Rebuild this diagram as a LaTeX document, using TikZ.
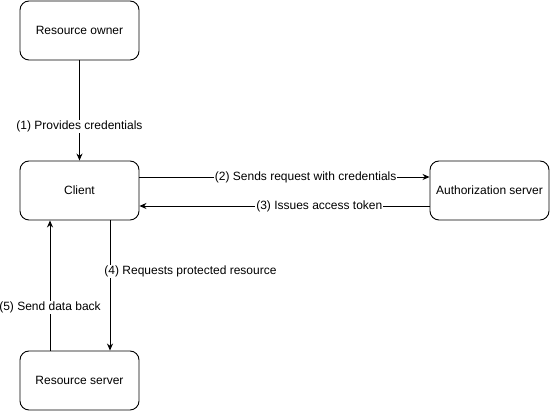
\documentclass[tikz,border=0pt]{standalone}
\usepackage{fontspec}
\setmainfont{Liberation Sans}
\usetikzlibrary{arrows.meta}
\begin{document}
\begin{tikzpicture}[x=1pt,y=-1pt,
  box/.style={draw,rounded corners=9pt,minimum width=119pt,minimum height=59pt,line width=0.9pt,font=\fontsize{12}{14}\selectfont,inner sep=0pt},
  conn/.style={line width=0.9pt,-{Stealth[length=7pt,width=6pt]}},
  lbl/.style={fill=white,font=\fontsize{12}{14}\selectfont,inner sep=1pt}]
\useasboundingbox (0,0) rectangle (550,411);
\node[box] (ro) at (79.5,30.5) {Resource owner};
\node[box] (cl) at (79.5,190.5) {Client};
\node[box] (as) at (489.5,190.5) {Authorization server};
\node[box] (rs) at (79.5,380.5) {Resource server};
\coordinate (c1) at (cl.east |- 0,177);
\coordinate (a1) at (as.west |- 0,177);
\coordinate (c2) at (cl.east |- 0,206);
\coordinate (a2) at (as.west |- 0,206);
\coordinate (c4) at (110,0 |- cl.south);
\coordinate (r4) at (110,0 |- rs.north);
\coordinate (c5) at (50,0 |- cl.south);
\coordinate (r5) at (50,0 |- rs.north);
\draw[conn] (ro.south) -- (cl.north) node[lbl,pos=0.66] {(1) Provides credentials};
\draw[conn] (c1) -- (a1) node[lbl,pos=0.573] {(2) Sends request with credentials};
\draw[conn] (a2) -- (c2) node[lbl,pos=0.38] {(3) Issues access token};
\draw[conn] (c4) -- (r4) node[lbl,pos=0.39,anchor=west,xshift=-7pt] {(4) Requests protected resource};
\draw[conn] (r5) -- (c5) node[lbl,pos=0.33] {(5) Send data back};
\end{tikzpicture}
\end{document}
